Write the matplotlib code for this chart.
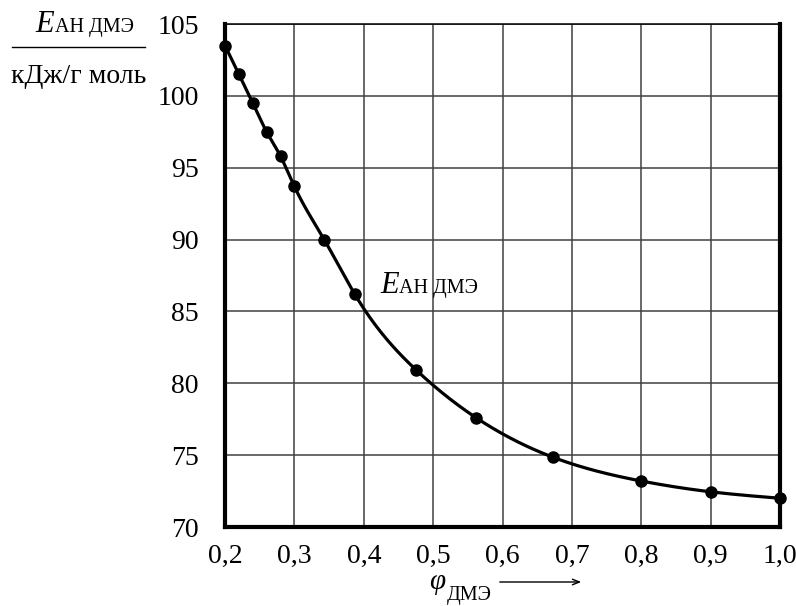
import numpy as np
import matplotlib
matplotlib.use('Agg')
import matplotlib.pyplot as plt
from matplotlib.ticker import FixedLocator


## Data ##
phi_dme = [0.20, 0.22, 0.24, 0.26, 0.28, 0.30, 0.343, 0.387,
           0.475, 0.562, 0.673, 0.80, 0.90, 1.00]
e_an_dme = [103.5, 101.5, 99.5, 97.5, 95.8, 93.7, 90.0, 86.2,
            80.95, 77.6, 74.85, 73.2, 72.45, 72.0]

x_ticks = [0.2, 0.3, 0.4, 0.5, 0.6, 0.7, 0.8, 0.9, 1.0]
x_tick_labels = ['0,2', '0,3', '0,4', '0,5', '0,6', '0,7', '0,8', '0,9', '1,0']
y_ticks = [70, 75, 80, 85, 90, 95, 100, 105]
y_tick_labels = ['70', '75', '80', '85', '90', '95', '100', '105']


def natural_spline(x, y, n=400):
    # smooth line through the measured points, for drawing only
    x = np.asarray(x, float)
    y = np.asarray(y, float)
    k = len(x)
    h = np.diff(x)
    A = np.zeros((k, k))
    b = np.zeros(k)
    A[0, 0] = A[-1, -1] = 1
    for i in range(1, k - 1):
        A[i, i - 1] = h[i - 1]
        A[i, i] = 2 * (h[i - 1] + h[i])
        A[i, i + 1] = h[i]
        b[i] = 3 * ((y[i + 1] - y[i]) / h[i] - (y[i] - y[i - 1]) / h[i - 1])
    c = np.linalg.solve(A, b)
    xs = np.linspace(x[0], x[-1], n)
    idx = np.clip(np.searchsorted(x, xs) - 1, 0, k - 2)
    dx = xs - x[idx]
    hi = h[idx]
    bb = (y[idx + 1] - y[idx]) / hi - hi * (2 * c[idx] + c[idx + 1]) / 3
    dd = (c[idx + 1] - c[idx]) / (3 * hi)
    ys = y[idx] + bb * dx + c[idx] * dx**2 + dd * dx**3
    return xs, ys


plt.rcParams['font.family'] = ['Liberation Serif', 'DejaVu Serif']

fig = plt.figure(figsize=[7.96, 6.06], dpi=100)
ax = fig.add_axes([225 / 796, 1 - 527 / 606, 555 / 796, 503 / 606])

xs, ys = natural_spline(phi_dme, e_an_dme)
ax.plot(xs, ys, 'k', lw=2.3, zorder=3, clip_on=False)
ax.plot(phi_dme, e_an_dme, 'ko', ms=8, zorder=4, clip_on=False)

ax.set_xlim(0.2, 1.0)
ax.set_ylim(70, 105)
ax.xaxis.set_major_locator(FixedLocator(x_ticks))
ax.yaxis.set_major_locator(FixedLocator(y_ticks))
ax.set_xticklabels(x_tick_labels)
ax.set_yticklabels(y_tick_labels)
ax.tick_params(axis='both', length=0, labelsize=20)
ax.tick_params(axis='x', pad=12)
ax.tick_params(axis='y', pad=19)

ax.grid(True, color='#404040', lw=1.1)
ax.set_axisbelow(True)
for side in ['left', 'bottom', 'right']:
    ax.spines[side].set_linewidth(3.0)
ax.spines['top'].set_linewidth(1.1)

## Curve label inside the plot ##
ax.text(0.4505, 86.27, 'E', fontsize=22, style='italic',
        ha='right', va='baseline')
ax.text(0.4515, 86.27, 'АН ДМЭ', fontsize=14.5, ha='left', va='baseline')

## Y axis caption as a fraction ##
fig.text(54 / 796, 1 - 32 / 606, 'E', fontsize=22, style='italic',
         ha='right', va='baseline')
fig.text(55 / 796, 1 - 32 / 606, 'АН ДМЭ', fontsize=14.5,
         ha='left', va='baseline')
fig.add_artist(plt.Line2D([12 / 796, 145 / 796], [1 - 47 / 606, 1 - 47 / 606],
                          color='k', lw=1.0))
fig.text(79 / 796, 1 - 83 / 606, 'кДж/г моль', fontsize=20,
         ha='center', va='baseline')

## X axis caption with arrow ##
fig.text(445 / 796, 1 - 589 / 606, 'φ', fontsize=21, style='italic',
         ha='right', va='baseline')
fig.text(447 / 796, 1 - 600 / 606, 'ДМЭ', fontsize=14.5,
         ha='left', va='baseline')
fig.add_artist(matplotlib.patches.FancyArrowPatch(
    (497 / 796, 1 - 582 / 606), (584 / 796, 1 - 582 / 606),
    transform=fig.transFigure, arrowstyle='->,head_length=5,head_width=2',
    color='k', lw=1.0))

plt.savefig('out.png', dpi=100)
